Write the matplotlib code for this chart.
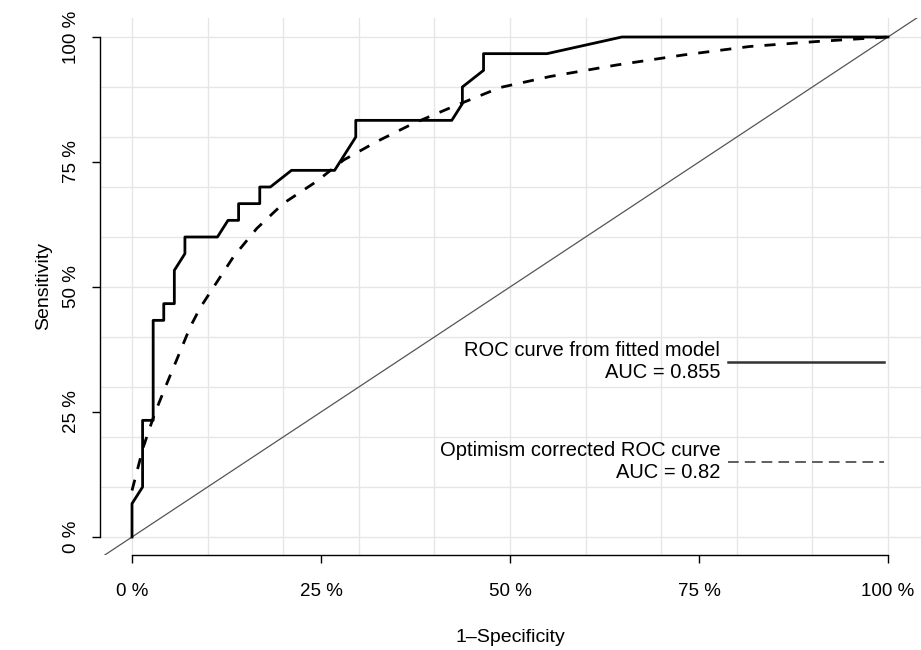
import numpy as np
import matplotlib
matplotlib.use("Agg")
import matplotlib.pyplot as plt

plt.rcParams['font.family'] = ['Liberation Sans', 'DejaVu Sans']

# apparent ROC curve (step curve from fitted model)
roc_fpr = [0, 0, 0.014, 0.014, 0.028, 0.028, 0.042, 0.042, 0.056, 0.056, 0.070, 0.070,
           0.113, 0.127, 0.141, 0.141, 0.169, 0.169, 0.183, 0.211, 0.268, 0.296, 0.296,
           0.423, 0.437, 0.437, 0.465, 0.465, 0.549, 0.648, 1.0]
roc_tpr = [0, 0.0667, 0.1, 0.2333, 0.2333, 0.4333, 0.4333, 0.4667, 0.4667, 0.5333, 0.5667, 0.6,
           0.6, 0.6333, 0.6333, 0.6667, 0.6667, 0.7, 0.7, 0.7333, 0.7333, 0.8, 0.8333,
           0.8333, 0.8667, 0.9, 0.9333, 0.9667, 0.9667, 1.0, 1.0]

# optimism corrected ROC curve (smooth)
corr_fpr = [0, 0.015, 0.030, 0.048, 0.059, 0.077, 0.090, 0.108, 0.134, 0.165, 0.20, 0.244,
            0.28, 0.324, 0.372, 0.425, 0.487, 0.553, 0.641, 0.729, 0.817, 0.906, 1.0]
corr_tpr = [0.093, 0.18, 0.247, 0.314, 0.354, 0.42, 0.458, 0.50, 0.56, 0.617, 0.667, 0.711,
            0.754, 0.791, 0.827, 0.861, 0.899, 0.921, 0.944, 0.964, 0.981, 0.991, 1.0]

ticks = [0, 0.25, 0.5, 0.75, 1.0]
tick_labels = ["0 %", "25 %", "50 %", "75 %", "100 %"]
legend_text = ["ROC curve from fitted model\nAUC = 0.855",
               "Optimism corrected ROC curve\nAUC = 0.82"]
legend_y = [0.35, 0.15]

fig = plt.figure(figsize=(9.21, 6.5), dpi=100)
ax = fig.add_axes([100/921, 95/650, 821/921, 537/650])
ax.set_xlim(-32/756, 1 + 33/756)
ax.set_ylim(-18/500, 1 + 19/500)

grid = np.arange(0, 1.01, 0.1)
for g in grid:
    ax.axvline(g, color="#e6e6e6", lw=1, zorder=0)
    ax.axhline(g, color="#e6e6e6", lw=1, zorder=0)

ax.plot([-1, 2], [-1, 2], color="#555555", lw=0.9, zorder=1)
ax.plot(corr_fpr, corr_tpr, color="black", lw=2, dashes=(4, 4), zorder=2)
ax.plot(roc_fpr, roc_tpr, color="black", lw=2, zorder=3)

# legend drawn by hand, R style
ax.plot([0.788, 0.995], [legend_y[0]] * 2, color="#333333", lw=1.8)
ax.plot([0.788, 0.995], [legend_y[1]] * 2, color="#333333", lw=1.1, dashes=(7, 4))
for t, yy in zip(legend_text, legend_y):
    ax.text(0.778, yy, t, ha="right", va="center", fontsize=14.5, linespacing=1.2)

for s in ["top", "right"]:
    ax.spines[s].set_visible(False)
ax.spines["left"].set_bounds(0, 1)
ax.spines["bottom"].set_bounds(0, 1)
ax.spines["left"].set_linewidth(1)
ax.spines["bottom"].set_linewidth(1)

ax.set_xticks(ticks)
ax.set_xticklabels(tick_labels, fontsize=13.5)
ax.set_yticks(ticks)
ax.set_yticklabels(tick_labels, fontsize=13.5, rotation=90, va="center")
ax.tick_params(length=6, width=1)
ax.tick_params(axis="x", pad=14)
ax.tick_params(axis="y", pad=8.5)

ax.set_xlabel("1–Specificity", fontsize=14, labelpad=21)
ax.set_ylabel("Sensitivity", fontsize=14, labelpad=8)

fig.savefig("out.png", dpi=100)
